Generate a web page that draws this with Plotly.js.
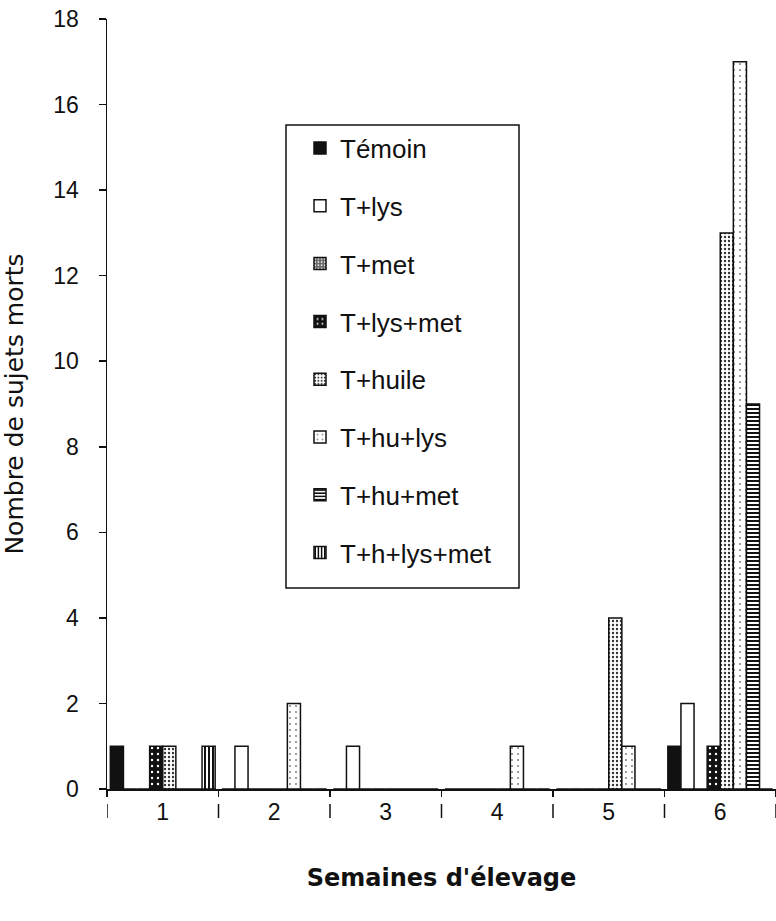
<!DOCTYPE html>
<html>
<head>
<meta charset="utf-8">
<script src="https://cdn.plot.ly/plotly-3.0.1.min.js"></script>
<style>html,body{margin:0;padding:0;background:#fff}</style>
</head>
<body>
<div id="chart" style="width:776px;height:921px"></div>
<script>
// ---- data ----
const weeks = ["1", "2", "3", "4", "5", "6"];
const seriesNames = ["Témoin", "T+lys", "T+met", "T+lys+met", "T+huile", "T+hu+lys", "T+hu+met", "T+h+lys+met"];
const temoin    = [1, 0, 0, 0, 0, 1];
const tLys      = [0, 1, 1, 0, 0, 2];
const tMet      = [0, 0, 0, 0, 0, 0];
const tLysMet   = [1, 0, 0, 0, 0, 1];
const tHuile    = [1, 0, 0, 0, 4, 13];
const tHuLys    = [0, 2, 0, 1, 1, 17];
const tHuMet    = [0, 0, 0, 0, 0, 9];
const tHLysMet  = [1, 0, 0, 0, 0, 0];
const yTitle = "Nombre de sujets morts";
const xTitle = "Semaines d'élevage";

const seriesValues = [temoin, tLys, tMet, tLysMet, tHuile, tHuLys, tHuMet, tHLysMet];

// ---- styles ----
const styles = [
  {color: '#111'},
  {color: '#fff'},
  {color: '#555', pattern: {shape: '.', bgcolor: '#666', fgcolor: '#ddd', size: 4, solidity: 0.3}},
  {color: '#111', pattern: {shape: '.', bgcolor: '#111', fgcolor: '#fff', size: 6, solidity: 0.12}},
  {color: '#ddd', pattern: {shape: '.', bgcolor: '#fff', fgcolor: '#333', size: 4, solidity: 0.28}},
  {color: '#f4f4f4', pattern: {shape: '.', bgcolor: '#fff', fgcolor: '#888', size: 6, solidity: 0.1}},
  {color: '#fff', pattern: {shape: '-', bgcolor: '#fff', fgcolor: '#111', size: 4, solidity: 0.5}},
  {color: '#fff', pattern: {shape: '|', bgcolor: '#fff', fgcolor: '#111', size: 4, solidity: 0.5}}
];

const traces = seriesNames.map((name, i) => {
  const m = {color: styles[i].color, line: {color: '#111', width: 1.5}};
  if (styles[i].pattern) m.pattern = Object.assign({fillmode: 'replace'}, styles[i].pattern);
  return {
    type: 'bar', name: name, x: weeks, y: seriesValues[i],
    legendgroup: 'g' + i, marker: m, hoverinfo: 'x+y+name'
  };
});

// geometry helpers (pixels -> paper fractions of the plot area)
const H = 921, T = 19, B = 81, L = 107, W = 776;
const plotH = H - T - B;          // 821
const plotW = W - L;              // 669
const py = p => (H - B - p) / plotH;
const px = p => (p - L) / plotW;
const baseY = 789;

// separator marks "|" in the tick-label row, at the category boundaries
const boundaries = weeks.map((_, i) => i - 0.5).concat([weeks.length - 0.5]);
const sepShapes = boundaries.map(b => ({
  type: 'line', xref: 'x', yref: 'paper', x0: b, x1: b, y0: py(804), y1: py(818),
  line: {color: '#111', width: 1.5}
}));

const layout = {
  width: W, height: H,
  margin: {l: L, r: 0, t: T, b: B, pad: 0},
  paper_bgcolor: '#fff', plot_bgcolor: '#fff',
  barmode: 'group', bargap: 0.06, bargroupgap: 0,
  font: {family: 'Liberation Sans, Arial, sans-serif', color: '#111', size: 23},
  showlegend: true,
  legend: {
    x: px(300), y: py(124.6), xanchor: 'left', yanchor: 'top',
    borderwidth: 0, bgcolor: 'rgba(0,0,0,0)',
    font: {size: 26, color: '#111'}, tracegroupgap: 21, traceorder: 'grouped', itemwidth: 30
  },
  shapes: [{
    type: 'rect', xref: 'paper', yref: 'paper',
    x0: px(286), x1: px(519), y0: py(588), y1: py(125),
    line: {color: '#111', width: 1.5}, fillcolor: 'rgba(0,0,0,0)', layer: 'above'
  }].concat(sepShapes),
  xaxis: {
    type: 'category', range: [-0.5, 5.5], tickson: 'boundaries',
    ticks: 'outside', ticklen: 6, tickwidth: 1.5, tickcolor: '#111',
    showticklabels: true, tickfont: {size: 23, color: '#111'}, ticklabelstandoff: 2,
    showline: true, linecolor: '#111', linewidth: 1.5,
    showgrid: false, zeroline: false, anchor: 'y', fixedrange: true,
    title: {text: xTitle, font: {family: 'DejaVu Sans, sans-serif', size: 24, weight: 'bold', color: '#111'}, standoff: 45}
  },
  yaxis: {
    domain: [py(baseY), 1], range: [0, 18], tick0: 0, dtick: 2,
    ticks: 'outside', ticklen: 7, tickwidth: 1.5, tickcolor: '#111',
    showline: true, linecolor: '#111', linewidth: 1.5,
    showgrid: false, zeroline: false, ticklabelstandoff: 15,
    tickfont: {size: 23, color: '#111'},
    title: {text: yTitle, font: {family: 'DejaVu Sans, sans-serif', size: 25, color: '#111'}, standoff: 22},
    fixedrange: true
  }
};

Plotly.newPlot('chart', traces, layout, {displayModeBar: false, staticPlot: true});
</script>
</body>
</html>
